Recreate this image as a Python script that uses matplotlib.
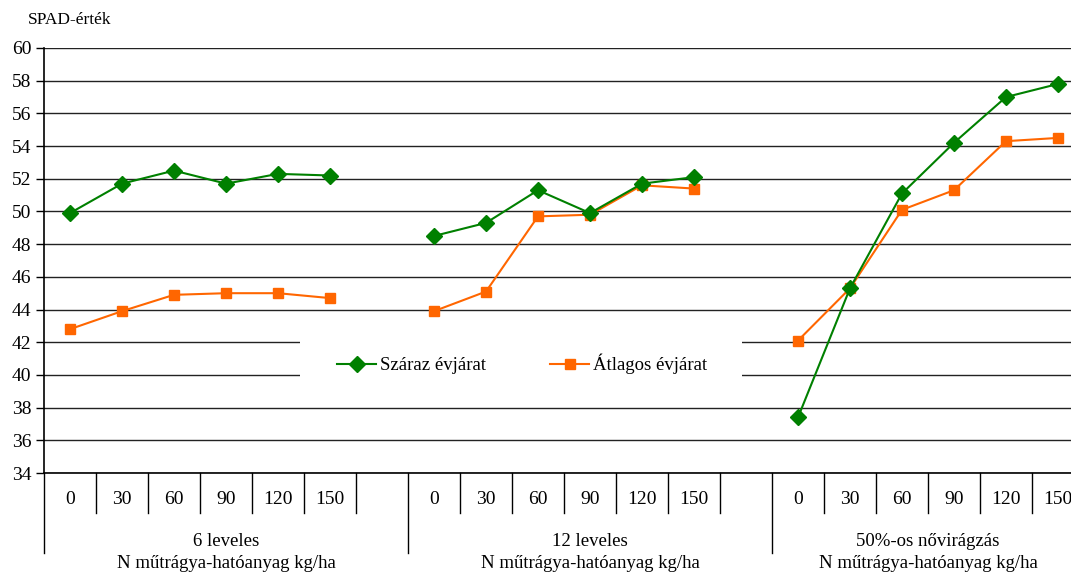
import matplotlib
matplotlib.use("Agg")
import matplotlib.pyplot as plt
import matplotlib.transforms as mtransforms
from matplotlib.patches import Rectangle

plt.rcParams['font.family'] = ['Liberation Serif', 'DejaVu Serif']

# N doses (kg/ha) within each growth stage
doses = ["0", "30", "60", "90", "120", "150"]
stages = ["6 leveles", "12 leveles", "50%-os nővirágzás"]
x_subtitle = "N műtrágya-hatóanyag kg/ha"

# SPAD readings per stage
dry_year = [
    [49.9, 51.7, 52.5, 51.7, 52.3, 52.2],
    [48.5, 49.3, 51.3, 49.9, 51.7, 52.1],
    [37.4, 45.3, 51.1, 54.2, 57.0, 57.8],
]
avg_year = [
    [42.8, 43.9, 44.9, 45.0, 45.0, 44.7],
    [43.9, 45.1, 49.7, 49.8, 51.6, 51.4],
    [42.1, 45.3, 50.1, 51.3, 54.3, 54.5],
]
series_names = ["Száraz évjárat", "Átlagos évjárat"]
series_colors = ["#008000", "#FF6600"]
series_markers = ["D", "s"]

W, H = 1071, 576
fig = plt.figure(figsize=(W / 100, H / 100), dpi=100)
ax_left, ax_bottom, ax_w, ax_h = 44, 103, 1040, 425
ax = fig.add_axes([ax_left / W, ax_bottom / H, ax_w / W, ax_h / H])

slot = len(doses) + 1  # one empty category between stages
ax.set_xlim(-0.5, slot * (len(stages) - 1) + len(doses) - 0.5)
ax.set_ylim(34, 60)
ax.set_yticks(range(34, 61, 2))
ax.tick_params(axis='y', labelsize=14, length=6, width=1, direction='out', pad=3)
ax.tick_params(axis='x', bottom=False, labelbottom=False)
for side in ("top", "right"):
    ax.spines[side].set_visible(False)
for side in ("left", "bottom"):
    ax.spines[side].set_linewidth(1.2)
    ax.spines[side].set_color("black")
ax.grid(axis='y', color="#222222", linewidth=1.0)
ax.set_axisbelow(True)

handles = []
for s, (data, color, marker, name) in enumerate(
        zip([dry_year, avg_year], series_colors, series_markers, series_names)):
    for g, vals in enumerate(data):
        xs = [g * slot + i for i in range(len(vals))]
        ln, = ax.plot(xs, vals, color=color, marker=marker, linewidth=1.5,
                      markersize=8 if marker == "D" else 7.5,
                      markeredgecolor=color, label=name if g == 0 else None,
                      zorder=3 + (1 - s))
        if g == 0:
            handles.append(ln)

# white panel behind the legend
ax.add_patch(Rectangle((4.42, 39.4), 8.5, 3.2, facecolor="white",
                       edgecolor="none", zorder=2))
leg = ax.legend(handles=handles, ncol=2, loc="center",
                bbox_to_anchor=((522 - ax_left) / ax_w, 1 - (364 - 48) / ax_h),
                frameon=False, fontsize=13.5, handlelength=2.1,
                handletextpad=0.2, columnspacing=3.4)

# multi-level category axis
trans = mtransforms.blended_transform_factory(ax.transData, ax.transAxes)
short_len = -40 / ax_h
long_len = -80 / ax_h
for g, stage in enumerate(stages):
    start = g * slot - 0.5
    span = slot if g < len(stages) - 1 else len(doses)
    ax.plot([start, start], [0, long_len], color="black", lw=1.0,
            transform=trans, clip_on=False)
    for i, d in enumerate(doses):
        x = g * slot + i
        ax.text(x, -27 / ax_h, d, transform=trans, ha="center", va="center",
                fontsize=14)
        ax.plot([x + 0.5, x + 0.5], [0, short_len], color="black", lw=1.0,
                transform=trans, clip_on=False)
    center = start + span / 2
    ax.text(center, -68 / ax_h, stage, transform=trans, ha="center",
            va="center", fontsize=13.5)
    ax.text(center, -91 / ax_h, x_subtitle, transform=trans, ha="center",
            va="center", fontsize=13.5)

fig.text(28 / W, 1 - 20 / H, "SPAD-érték", ha="left", va="center", fontsize=12.5)

fig.savefig("out.png", dpi=100)
